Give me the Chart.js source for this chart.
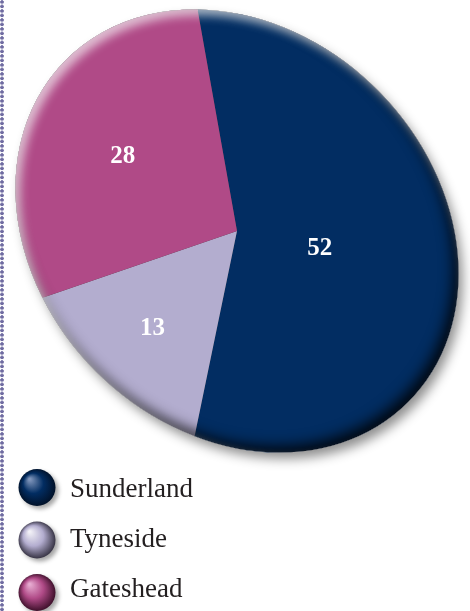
<!DOCTYPE html>
<html>
<head>
<meta charset="utf-8">
<script src="https://cdn.jsdelivr.net/npm/chart.js@4/dist/chart.umd.min.js"></script>
<style>
  html, body { margin: 0; padding: 0; background: #fff; }
  body { width: 470px; height: 611px; position: relative; overflow: hidden; }
  .dots {
    position: absolute; left: 0; top: 0; width: 5px; height: 611px;
    background: radial-gradient(circle at 2px 2px, #6f6ba1 1.5px, rgba(255,255,255,0) 2.1px) 0 0 / 5px 4.5px repeat-y;
  }
  #pie { position: absolute; left: 0; top: 0; }
</style>
</head>
<body>
<div class="dots"></div>
<canvas id="pie" width="470" height="611"></canvas>
<script>
const categories = ['Sunderland', 'Tyneside', 'Gateshead'];
const shares = [52, 13, 28];
const sliceColours = ['#022d62', '#b3adcf', '#b04a87'];
const ballLight = ['#7f95bb', '#f1f0f6', '#e6aad0'];
const ballDark = ['#010f24', '#2e2b3a', '#360c24'];

const SERIF = '"Liberation Serif", "DejaVu Serif", serif';

// the round pie gets squashed into a tilted ellipse
const TILT = 45;
const STRETCH_A = 1.1;
const STRETCH_B = 0.905;

function tiltMatrix(arc) {
    return new DOMMatrix()
        .translate(arc.x, arc.y)
        .rotate(TILT)
        .scale(STRETCH_A, STRETCH_B)
        .rotate(-TILT)
        .translate(-arc.x, -arc.y);
}

function applyTilt(ctx, m) {
    ctx.transform(m.a, m.b, m.c, m.d, m.e, m.f);
}

const tiltPlugin = {
    id: 'tilt',
    beforeDatasetsDraw(chart) {
        const ctx = chart.ctx;
        const arc = chart.getDatasetMeta(0).data[0];
        const m = tiltMatrix(arc);

        // soft drop shadow under the whole pie
        ctx.save();
        applyTilt(ctx, m);
        ctx.beginPath();
        ctx.arc(arc.x, arc.y, arc.outerRadius - 1, 0, Math.PI * 2);
        ctx.shadowColor = 'rgba(0,0,0,0.45)';
        ctx.shadowBlur = 12;
        ctx.shadowOffsetX = 5;
        ctx.shadowOffsetY = 7;
        ctx.fillStyle = '#444';
        ctx.fill();
        ctx.restore();

        ctx.save();
        applyTilt(ctx, m);
    },
    afterDatasetsDraw(chart) {
        const ctx = chart.ctx;
        ctx.restore();

        const meta = chart.getDatasetMeta(0);
        const arc = meta.data[0];
        const m = tiltMatrix(arc);
        const R = arc.outerRadius;

        // bevel: dark rim bottom right, light rim top left
        ctx.save();
        applyTilt(ctx, m);
        ctx.beginPath();
        ctx.arc(arc.x, arc.y, R, 0, Math.PI * 2);
        ctx.clip();
        const ring = () => {
            ctx.beginPath();
            ctx.arc(arc.x, arc.y, R + 80, 0, Math.PI * 2);
            ctx.arc(arc.x, arc.y, R, 0, Math.PI * 2, true);
        };
        ring();
        ctx.fillStyle = '#000';
        ctx.shadowColor = 'rgba(0,0,0,0.85)';
        ctx.shadowBlur = 14;
        ctx.shadowOffsetX = -5;
        ctx.shadowOffsetY = -6;
        ctx.fill();
        ring();
        ctx.fillStyle = '#fff';
        ctx.shadowColor = 'rgba(255,255,255,0.65)';
        ctx.shadowBlur = 10;
        ctx.shadowOffsetX = 5;
        ctx.shadowOffsetY = 6;
        ctx.fill();
        ctx.restore();

        // value labels at each slice's centroid
        ctx.save();
        ctx.fillStyle = '#fff';
        ctx.font = 'bold 25px ' + SERIF;
        ctx.textAlign = 'center';
        ctx.textBaseline = 'middle';
        meta.data.forEach((el, i) => {
            const half = (el.endAngle - el.startAngle) / 2;
            const mid = el.startAngle + half;
            const d = 2 * el.outerRadius * Math.sin(half) / (3 * half);
            const p = m.transformPoint(new DOMPoint(el.x + d * Math.cos(mid), el.y + d * Math.sin(mid)));
            ctx.fillText(String(shares[i]), p.x, p.y + 1);
        });
        ctx.restore();
    },
    afterDraw(chart) {
        const ctx = chart.ctx;
        categories.forEach((name, i) => {
            const cx = 37, cy = 487.5 + i * 52.5, r = 18.5;
            ctx.save();
            const g = ctx.createRadialGradient(cx - r * 0.4, cy - r * 0.45, r * 0.05, cx, cy, r * 1.05);
            g.addColorStop(0, ballLight[i]);
            g.addColorStop(0.5, sliceColours[i]);
            g.addColorStop(1, ballDark[i]);
            ctx.beginPath();
            ctx.arc(cx, cy, r, 0, Math.PI * 2);
            ctx.shadowColor = 'rgba(0,0,0,0.35)';
            ctx.shadowBlur = 4;
            ctx.shadowOffsetX = 3;
            ctx.shadowOffsetY = 3;
            ctx.fillStyle = g;
            ctx.fill();
            ctx.restore();

            ctx.save();
            ctx.fillStyle = '#231f20';
            ctx.font = '27px ' + SERIF;
            ctx.textBaseline = 'alphabetic';
            ctx.fillText(name, 70, 497 + i * 50);
            ctx.restore();
        });
    }
};

const chart = new Chart(document.getElementById('pie'), {
    type: 'pie',
    data: {
        labels: categories,
        datasets: [{
            data: shares,
            backgroundColor: sliceColours,
            borderWidth: 0,
            hoverOffset: 0,
            radius: 220,
            rotation: -4.7,
            clip: false
        }]
    },
    options: {
        responsive: false,
        animation: false,
        events: [],
        layout: {
            padding: { left: 4, right: 0, top: 0, bottom: 149 }
        },
        plugins: {
            legend: { display: false },
            tooltip: { enabled: false }
        }
    },
    plugins: [tiltPlugin]
});

// redraw once the serif faces are ready
Promise.all([
    document.fonts.load('27px "Liberation Serif"'),
    document.fonts.load('bold 25px "Liberation Serif"')
]).then(() => chart.draw());
</script>
</body>
</html>
